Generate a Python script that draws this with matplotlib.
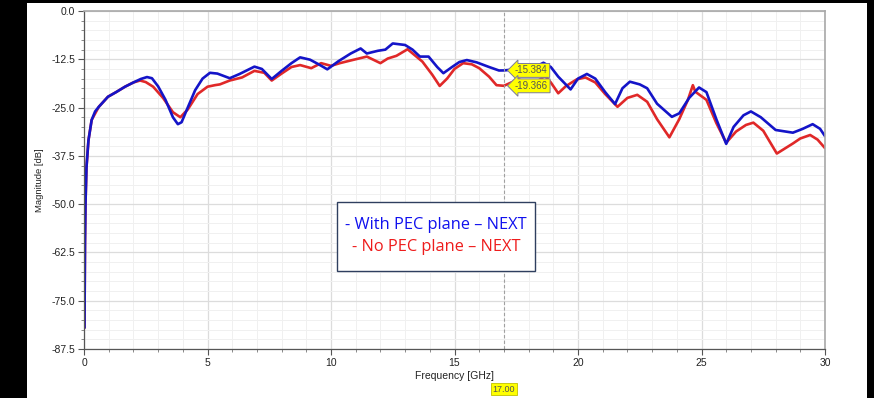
#!/usr/bin/env python3
"""NEXT magnitude vs frequency, with / without PEC plane (simulator screenshot look)."""

import matplotlib as mpl
mpl.use("Agg")
import matplotlib.pyplot as plt
from matplotlib.patches import Rectangle
from matplotlib.ticker import MultipleLocator, FormatStrFormatter

# --- data ------------------------------------------------------------------
F_PEC = [0.02, 0.04, 0.06, 0.10, 0.18, 0.31, 0.45, 0.6, 0.97, 1.3, 1.66, 2.0,
         2.3, 2.55, 2.75, 3.0, 3.3, 3.6, 3.8, 3.95, 4.2, 4.5, 4.8, 5.1, 5.4,
         5.9, 6.3, 6.9, 7.2, 7.6, 8.0, 8.4, 8.75, 9.15, 9.5, 9.85, 10.3, 10.8,
         11.2, 11.45, 11.9, 12.2, 12.5, 13.0, 13.3, 13.6, 13.95, 14.3, 14.55,
         14.9, 15.2, 15.5, 15.9, 16.4, 16.8, 17.0, 17.3, 17.8, 18.2, 18.6,
         18.9, 19.2, 19.7, 20.0, 20.36, 20.7, 21.1, 21.5, 21.8, 22.1, 22.5,
         22.8, 23.2, 23.8, 24.1, 24.5, 24.9, 25.2, 25.6, 26.0, 26.3, 26.7,
         27.0, 27.4, 28.0, 28.7, 29.1, 29.5, 29.8, 30.0]
DB_PEC = [-82, -60, -50, -40.5, -33.5, -28.2, -26, -24.8, -22.2, -21, -19.6,
          -18.5, -17.6, -17.1, -17.4, -19.5, -23, -27.5, -29.3, -28.8, -25,
          -20.5, -17.5, -16, -16.2, -17.4, -16.3, -14.4, -15, -17.6, -15.5,
          -13.5, -12, -12.6, -13.8, -15.1, -13, -11, -9.7, -11, -10.3, -10,
          -8.4, -8.8, -10, -11.8, -11.8, -14.5, -16.1, -14.5, -13.2, -12.7,
          -13.3, -14.5, -15.4, -15.384, -15.2, -15.0, -14.7, -13.4, -14.5,
          -17, -20.3, -17.5, -16.3, -17.5, -21, -24.1, -20, -18.3, -19, -20.0,
          -24, -27.4, -26.5, -22.5, -19.8, -21, -28, -34.4, -30, -27, -26.0,
          -27.5, -30.8, -31.5, -30.5, -29.3, -30.5, -32.4]

F_NOPEC = [0.02, 0.04, 0.06, 0.10, 0.18, 0.31, 0.6, 0.97, 1.3, 1.66, 2.0,
           2.27, 2.5, 2.8, 3.2, 3.6, 3.9, 4.2, 4.6, 5.0, 5.3, 5.5, 5.9, 6.4,
           6.9, 7.3, 7.6, 8.0, 8.4, 8.75, 9.2, 9.6, 10.0, 10.36, 10.8, 11.45,
           12.0, 12.3, 12.65, 13.1, 13.4, 13.7, 14.1, 14.4, 14.7, 15.0, 15.35,
           15.7, 16.0, 16.4, 16.7, 17.0, 17.3, 17.6, 17.9, 18.1, 18.4, 18.66,
           18.9, 19.2, 19.5, 19.95, 20.3, 20.7, 21.1, 21.6, 22.0, 22.4, 22.8,
           23.2, 23.7, 24.1, 24.45, 24.65, 24.75, 25.2, 25.6, 26.0, 26.4, 26.8,
           27.1, 27.5, 28.05, 28.7, 29.0, 29.4, 29.7, 30.0]
DB_NOPEC = [-82, -60, -50, -40.5, -33.5, -28.2, -24.8, -22.2, -21, -19.6,
            -18.5, -18.0, -18.4, -19.6, -22.5, -26.2, -27.5, -25.5, -21.5,
            -19.6, -19.2, -19.0, -18.0, -17.2, -15.5, -16, -18, -16.2, -14.5,
            -14, -14.8, -13.5, -14.2, -13.5, -12.8, -11.8, -13.5, -12.3, -11.6,
            -9.9, -11.5, -13.1, -16.5, -19.4, -17.5, -15, -13.5, -13.8, -14.8,
            -17, -19.2, -19.366, -18.5, -17.7, -18.5, -19.2, -18, -16.8, -18.5,
            -21.3, -19.5, -17.7, -17.2, -18.5, -21.5, -24.8, -22.5, -21.7,
            -23.5, -28, -32.7, -28, -23, -19.2, -20.9, -23, -29, -34.1, -31.2,
            -29.5, -28.9, -31, -36.9, -34.3, -33, -32.1, -33.3, -35.5]

MARKER_F = 17.0
MARKER_LABELS = ["-15.384", "-19.366"]
MARKER_VALUES = [-15.384, -19.366]

C_BLUE = "#1414C8"
C_RED = "#E02828"

W, H = 874, 398

plt.rcParams["font.family"] = ["Liberation Sans", "DejaVu Sans"]
plt.rcParams["axes.unicode_minus"] = False

fig = plt.figure(figsize=(W / 100, H / 100), dpi=100)
fig.patch.set_facecolor("black")
# white panel of the screenshot
fig.add_artist(Rectangle((27 / W, 0), (867 - 27) / W, (H - 3) / H,
                         transform=fig.transFigure, facecolor="white",
                         edgecolor="none", zorder=0))

ax = fig.add_axes([84 / W, 1 - 349 / H, (825 - 84) / W, (349 - 11) / H])
ax.set_facecolor("white")
ax.set_xlim(0, 30)
ax.set_ylim(-87.5, 0)

ax.xaxis.set_major_locator(MultipleLocator(5))
ax.xaxis.set_minor_locator(MultipleLocator(1))
ax.yaxis.set_major_locator(MultipleLocator(12.5))
ax.yaxis.set_minor_locator(MultipleLocator(2.5))
ax.yaxis.set_major_formatter(FormatStrFormatter("%.1f"))
ax.xaxis.set_major_formatter(FormatStrFormatter("%d"))

ax.grid(which="major", color="#dcdcdc", linewidth=0.9)
ax.grid(which="minor", color="#f0f0f0", linewidth=0.7)
ax.set_axisbelow(True)

ax.tick_params(which="major", direction="out", length=4, width=0.8,
               color="#555555", labelsize=7.5, labelcolor="#222222", pad=2.5)
ax.tick_params(which="minor", direction="out", length=2.5, width=0.6,
               color="#777777")
for side in ("left", "bottom"):
    ax.spines[side].set_color("#555555")
    ax.spines[side].set_linewidth(0.9)
for side in ("top", "right"):
    ax.spines[side].set_color("#a8a8a8")
    ax.spines[side].set_linewidth(1.2)

ax.set_xlabel("Frequency [GHz]", fontsize=7.5, color="#222222", labelpad=2)
ax.set_ylabel("Magnitude [dB]", fontsize=6.8, color="#222222", labelpad=5)

ax.plot(F_NOPEC, DB_NOPEC, color=C_RED, linewidth=1.9, solid_joinstyle="round",
        solid_capstyle="round")
ax.plot(F_PEC, DB_PEC, color=C_BLUE, linewidth=1.9, solid_joinstyle="round",
        solid_capstyle="round")

# marker line + readouts
ax.axvline(MARKER_F, color="#a0a0a0", linewidth=0.8, linestyle=(0, (3, 2)))
for lab, val in zip(MARKER_LABELS, MARKER_VALUES):
    ax.annotate(lab, (MARKER_F, val), xytext=(8, 0), textcoords="offset points",
                fontsize=7, color="#555555", va="center", ha="left",
                bbox=dict(boxstyle="larrow,pad=0.2", facecolor="#ffff00",
                          edgecolor="#7a7a9a", linewidth=0.7))
ax.annotate(f"{MARKER_F:.2f}", (MARKER_F, 0), xycoords=("data", "axes fraction"),
            xytext=(0, -29), textcoords="offset points", fontsize=6.5,
            color="#555555", ha="center", va="center", annotation_clip=False,
            bbox=dict(boxstyle="square,pad=0.15", facecolor="#ffff00",
                      edgecolor="#c0c000", linewidth=0.6))

# legend text box
fig.add_artist(Rectangle((337 / W, 1 - 271 / H), (535 - 337) / W, (271 - 202) / H,
                         transform=fig.transFigure, facecolor="white",
                         edgecolor="#2f3f5f", linewidth=1.0, zorder=5))
fig.text(436 / W, 1 - 225 / H, "- With PEC plane \u2013 NEXT", color="#1010ee",
         fontsize=11.8, ha="center", va="center", family=["Open Sans", "DejaVu Sans"],
         zorder=6)
fig.text(436 / W, 1 - 247 / H, "- No PEC plane \u2013 NEXT", color="#ee1c1c",
         fontsize=11.8, ha="center", va="center", family=["Open Sans", "DejaVu Sans"],
         zorder=6)

fig.savefig("out.png", dpi=100, facecolor=fig.get_facecolor())
